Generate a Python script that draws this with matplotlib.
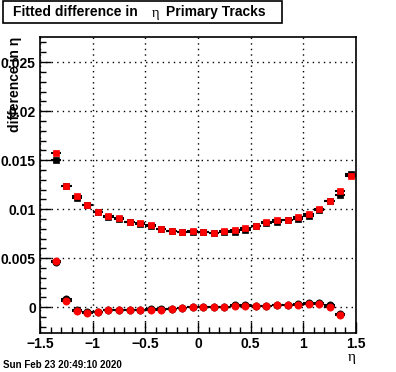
import numpy as np
import matplotlib.pyplot as plt
from matplotlib.ticker import MultipleLocator, FuncFormatter
from matplotlib.patches import Rectangle

# bin centres
eta_sq = [-1.35, -1.25, -1.15, -1.05, -0.95, -0.85, -0.75, -0.65, -0.55, -0.45,
          -0.35, -0.25, -0.15, -0.05, 0.05, 0.15, 0.25, 0.35, 0.45, 0.55,
          0.65, 0.75, 0.85, 0.95, 1.05, 1.15, 1.25, 1.35, 1.45]
eta_ci = eta_sq[:-1]

# upper band (squares)
sq_black = [0.0150, 0.01240, 0.01113, 0.01040, 0.00967, 0.00917, 0.00897, 0.00870, 0.00850, 0.00830,
            0.00800, 0.00780, 0.00767, 0.00767, 0.00770, 0.00757, 0.00770, 0.00772, 0.00785, 0.00825,
            0.00860, 0.00872, 0.00890, 0.00900, 0.00930, 0.00995, 0.01083, 0.01140, 0.01360]
sq_red = [0.01574, 0.01232, 0.01133, 0.01042, 0.00967, 0.00930, 0.00910, 0.00872, 0.00862, 0.00840,
          0.00800, 0.00780, 0.00767, 0.00777, 0.00770, 0.00760, 0.00777, 0.00787, 0.00806, 0.00830,
          0.00872, 0.00889, 0.00892, 0.00923, 0.00950, 0.01000, 0.01086, 0.01188, 0.01334]

# lower band (circles)
ci_black = [0.00460, 0.00081, -0.00030, -0.00050, -0.00045, -0.00028, -0.00028, -0.00025, -0.00025, -0.00022,
            -0.00022, -0.00015, -0.00008, 0.00006, 0.00002, 0.00004, 0.00008, 0.00020, 0.00025,
            0.00018, 0.00016, 0.00025, 0.00022, 0.00030, 0.00040, 0.00040, 0.00020, -0.00070]
ci_red = [0.00475, 0.00064, -0.00035, -0.00055, -0.00050, -0.00030, -0.00030, -0.00027, -0.00027, -0.00024,
          -0.00024, -0.00020, -0.00010, 0.00006, 0.00000, 0.00002, 0.00006, 0.00010, 0.00010,
          0.00013, 0.00013, 0.00023, 0.00020, 0.00027, 0.00037, 0.00037, 0.00006, -0.00075]

FONT = 'Liberation Sans'
fig = plt.figure(figsize=(3.96, 3.72), dpi=100)
ax = fig.add_axes([40/396, 1-333/372, 316/396, 296/372])

def draw(x, y, marker, color, yerr):
    ax.errorbar(x, y, xerr=0.05, yerr=yerr, fmt='none', ecolor='black', elinewidth=1.5, capsize=0, zorder=2)
    ax.plot(x, y, linestyle='none', marker=marker, markersize=4.6 if marker == 's' else 5.2,
            markerfacecolor=color, markeredgecolor=color, markeredgewidth=0.5, zorder=3)

draw(eta_sq, sq_black, 's', 'black', 0.00012)
draw(eta_ci, ci_black, 'o', 'black', 0.00012)
draw(eta_sq, sq_red, 's', 'red', 0.00012)
draw(eta_ci, ci_red, 'o', 'red', 0.00012)

ax.set_xlim(-1.5, 1.5)
ax.set_ylim(-0.00262, 0.02756)
ax.xaxis.set_major_locator(MultipleLocator(0.5))
ax.xaxis.set_minor_locator(MultipleLocator(0.1))
ax.yaxis.set_major_locator(MultipleLocator(0.005))
ax.yaxis.set_minor_locator(MultipleLocator(0.001))
ax.xaxis.set_major_formatter(FuncFormatter(lambda v, p: '0' if abs(v) < 1e-9 else ('%g' % v).replace('-', '\u2212')))
ax.yaxis.set_major_formatter(FuncFormatter(lambda v, p: '0' if abs(v) < 1e-9 else '%g' % v))
ax.tick_params(which='both', direction='in', top=False, right=False, width=1, color='black')
ax.tick_params(which='major', length=8, labelsize=10, pad=3)
ax.tick_params(which='minor', length=4)
for lab in ax.get_xticklabels() + ax.get_yticklabels():
    lab.set_family(FONT)
    lab.set_fontweight('bold')
ax.grid(True, which='major', linestyle=(0, (1, 3)), color='black', linewidth=1)
for s in ax.spines.values():
    s.set_linewidth(1.2)

# title box
fig.patches.append(Rectangle((3/396, 1-23/372), 279/396, 22/372, transform=fig.transFigure,
                             facecolor='white', edgecolor='black', linewidth=1.2))
fig.text(13/396, 1-12/372, 'Fitted difference in', family=FONT, weight='bold', fontsize=10, va='center')
fig.text(152/396, 1-13/372, '\u03b7', family='Liberation Serif', fontsize=10.5, va='center')
fig.text(166/396, 1-12/372, 'Primary Tracks', family=FONT, weight='bold', fontsize=10, va='center')

fig.text(15/396, 1-37/372, 'difference in \u03b7', family=FONT, weight='bold', fontsize=10,
         rotation=90, ha='center', va='top')
fig.text(352/396, 1-358/372, '\u03b7', family='Liberation Serif', fontsize=11, ha='center', va='center')
fig.text(3/396, 1-365/372, 'Sun Feb 23 20:49:10 2020', family=FONT, weight='bold', fontsize=7, va='center')

fig.savefig('out.png', dpi=100)
